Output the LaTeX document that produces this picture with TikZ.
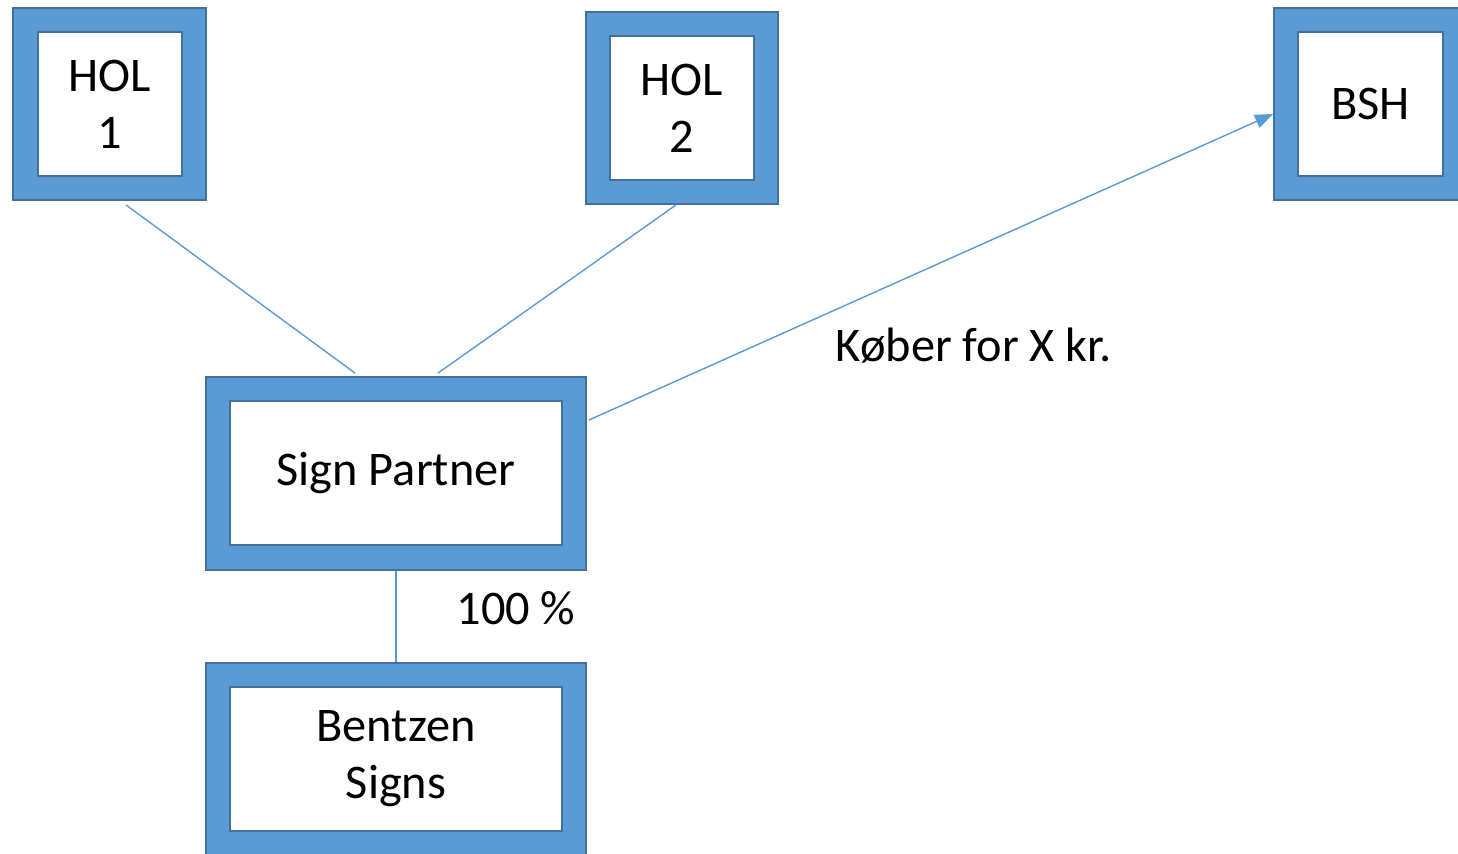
\documentclass[tikz,border=0pt]{standalone}
\usepackage{fontspec}
\setmainfont{Carlito}
\usepackage{tikz}
\usetikzlibrary{arrows.meta}
\definecolor{frameblue}{HTML}{5B9BD5}
\definecolor{frameedge}{HTML}{41719C}
\tikzset{frame/.style = {rectangle, fill=frameblue, draw=frameedge, line width=1.1pt, inner sep=0pt},
         inbox/.style = {rectangle, fill=white, draw=frameedge, line width=1.1pt, inner sep=0pt, align=center,
                         font=\fontsize{27.5}{32.5}\selectfont},
         link/.style = {draw=frameblue, line width=0.8pt},
         lbl/.style = {font=\fontsize{27.5}{32.5}\selectfont, inner sep=0pt}}

\begin{document}
\begin{tikzpicture}[x=0.02cm, y=-0.02cm]
        \useasboundingbox (0,0) rectangle (1458,853);
        \clip (0,0) rectangle (1458,853);

        \node [frame, minimum width=3.86cm, minimum height=3.84cm] (hol1) at (109.5,104) {};
        \node [inbox, minimum width=2.88cm, minimum height=2.88cm] (hol1in) at (110,104) {HOL\\1};

        \node [frame, minimum width=3.84cm, minimum height=3.84cm] (hol2) at (682,108) {};
        \node [inbox, minimum width=2.88cm, minimum height=2.88cm] (hol2in) at (682,108) {HOL\\2};

        \node [frame, minimum width=3.86cm, minimum height=3.84cm] (bsh) at (1370.5,104) {};
        \node [inbox, minimum width=2.9cm, minimum height=2.88cm] (bshin) at (1370.5,104) {BSH};

        \node [frame, minimum width=7.6cm, minimum height=3.86cm] (sp) at (396,473.5) {};
        \node [inbox, minimum width=6.64cm, minimum height=2.88cm] (spin) at (396,473) {\raisebox{-0.06cm}{Sign Partner}};

        \node [frame, minimum width=7.6cm, minimum height=3.86cm] (bentzen) at (396,759.5) {};
        \node [inbox, minimum width=6.64cm, minimum height=2.88cm] (bentzenin) at (396,759) {Bentzen\\Signs};

        \draw [link] ([shift={(16.5,4)}]hol1.south) -- ([shift={(-41,-3)}]sp.north);
        \draw [link] ([shift={(-6,0)}]hol2.south) -- ([shift={(42,-3)}]sp.north);
        \draw [link, -{Triangle[length=0.36cm, width=0.28cm]}] ([shift={(2,-53.5)}]sp.east) -- ([shift={(0,10)}]bsh.west);
        \draw [link] (sp.south) -- (bentzen.north);

        \node [lbl, anchor=base] (price) at (974,361) {Køber for X kr.};
        \node [lbl, anchor=base] (share) at (516,624) {100 \%};
    \end{tikzpicture}
\end{document}
